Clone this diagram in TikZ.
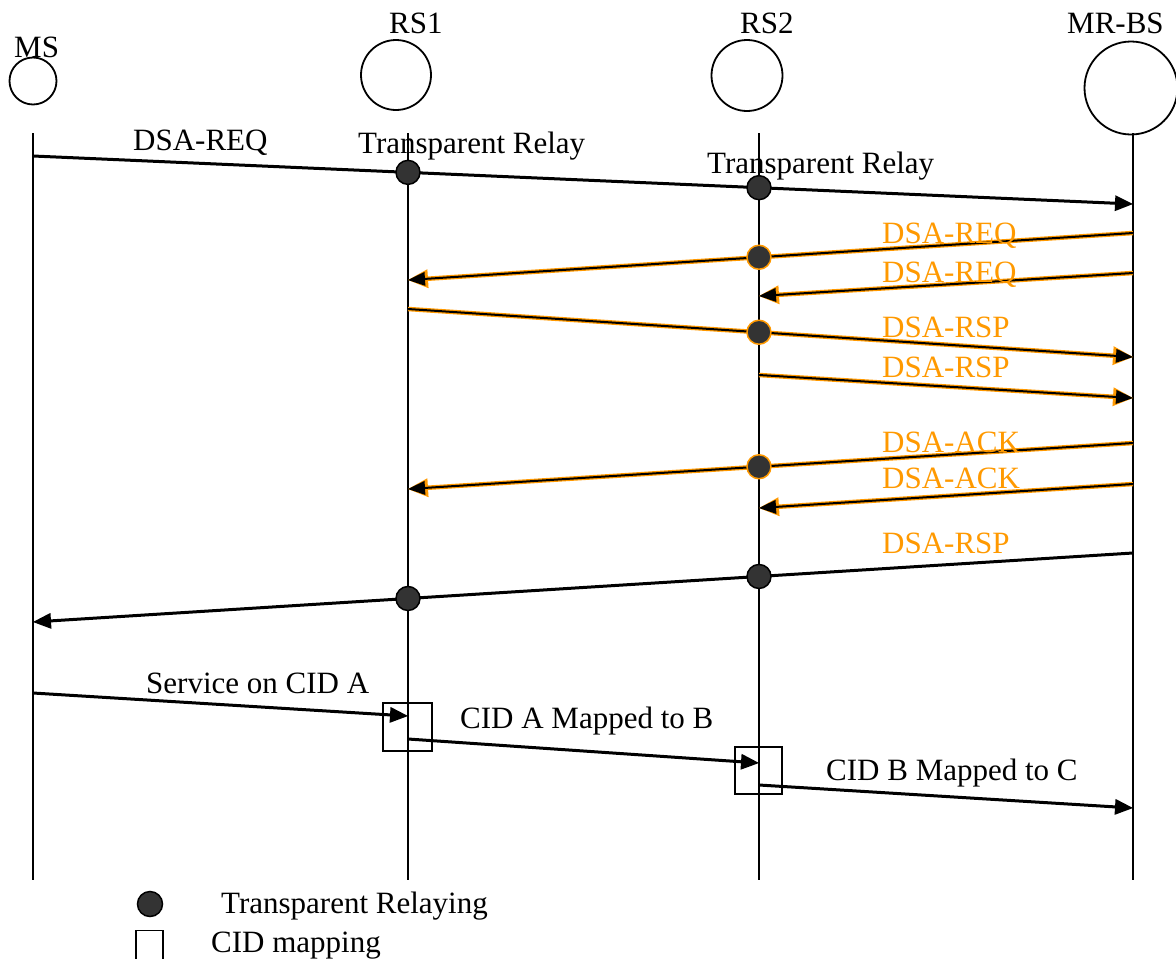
\documentclass[tikz,border=0pt]{standalone}
\usepackage{fontspec}
\setmainfont{Liberation Serif}
\usetikzlibrary{arrows.meta,calc}
\definecolor{dsaorange}{RGB}{255,153,0}
\definecolor{dotgray}{RGB}{51,51,51}
\begin{document}
\begin{tikzpicture}[x=1pt,y=-1pt,
  lbl/.style={font=\fontsize{31}{37}\selectfont, inner sep=0pt, anchor=base west},
  olbl/.style={lbl, text=dsaorange},
  head/.style={circle, draw, line width=1.8pt, inner sep=0pt},
  life/.style={line width=1.8pt},
  msgline/.style={line width=3pt},
  msg/.style={msgline, -{Triangle[length=18pt,width=16pt,line width=0pt]}},
  oback/.style={line width=4.5pt, draw=dsaorange},
  obackarr/.style={oback, -{Triangle[length=20pt,width=19pt,line width=0pt]}},
  ofront/.style={line width=2pt, draw=black},
  ofrontarr/.style={ofront, -{Triangle[length=17pt,width=14pt,line width=0pt]}},
  relay/.style={circle, fill=dotgray, draw=black, line width=1.5pt, minimum size=24pt, inner sep=0pt},
  orelay/.style={relay, draw=dsaorange},
  cidbox/.style={rectangle, draw, line width=1.8pt, inner sep=0pt},
]
\useasboundingbox (0,0) rectangle (1176,959);

% heads
\node[head, minimum size=47pt] (msH) at (33,81) {};
\node[head, minimum size=70pt] (rs1H) at (396,75) {};
\node[head, minimum size=71pt] (rs2H) at (747,75.5) {};
\node[head, minimum size=93pt] (bsH) at (1131,88) {};
\node[lbl] (msL) at (14,57) {MS};
\node[lbl] (rs1L) at (389,33) {RS1};
\node[lbl] (rs2L) at (740,33) {RS2};
\node[lbl] (bsL) at (1067,33) {MR-BS};

% lifelines
\coordinate (msT) at (33,133);  \coordinate (msB) at (33,880);
\coordinate (r1T) at (408,133); \coordinate (r1B) at (408,880);
\coordinate (r2T) at (759,133); \coordinate (r2B) at (759,880);
\coordinate (bsT) at (1133,133);\coordinate (bsB) at (1133,880);
\draw[life] (msT) -- (msB);
\draw[life] (r1T) -- (r1B);
\draw[life] (r2T) -- (r2B);
\draw[life] (bsT) -- (bsB);

% message endpoints
\coordinate (m1a) at (33,156);   \coordinate (m1b) at (1133,204);
\coordinate (m2a) at (1133,233); \coordinate (m2b) at (408,280);
\coordinate (m3a) at (1133,273); \coordinate (m3b) at (759,296);
\coordinate (m4a) at (408,309);  \coordinate (m4b) at (1133,357);
\coordinate (m5a) at (759,375);  \coordinate (m5b) at (1133,398);
\coordinate (m6a) at (1133,443); \coordinate (m6b) at (408,489);
\coordinate (m7a) at (1133,484); \coordinate (m7b) at (759,508);
\coordinate (m8a) at (1133,553); \coordinate (m8b) at (33,622);
\coordinate (m9a) at (33,693);   \coordinate (m9b) at (408,716);
\coordinate (m10a) at (408,739); \coordinate (m10b) at (759,763);
\coordinate (m11a) at (759,785); \coordinate (m11b) at (1133,808);

% black messages
\draw[msg] (m1a) -- (m1b);
\draw[msg] (m8a) -- (m8b);
\draw[msg] (m9a) -- (m9b);
\draw[msg] (m10a) -- (m10b);
\draw[msg] (m11a) -- (m11b);

% orange-outlined messages
\foreach \s/\e in {m2a/m2b,m3a/m3b,m4a/m4b,m5a/m5b,m6a/m6b,m7a/m7b}{
  \draw[obackarr] (\s) -- (\e);
  \draw[ofrontarr] (\s) -- (\e);
}

% relay dots
\node[relay] (d1) at ($(m1a)!0.3409!(m1b)$) {};
\node[relay] (d2) at ($(m1a)!0.66!(m1b)$) {};
\node[orelay] (d3) at ($(m2a)!0.5159!(m2b)$) {};
\node[orelay] (d4) at ($(m4a)!0.4841!(m4b)$) {};
\node[orelay] (d5) at ($(m6a)!0.5159!(m6b)$) {};
\node[relay] (d6) at ($(m8a)!0.34!(m8b)$) {};
\node[relay] (d7) at ($(m8a)!0.6591!(m8b)$) {};

% CID boxes
\node[cidbox, minimum width=49pt, minimum height=48pt] (box1) at (407.5,727) {};
\node[cidbox, minimum width=47pt, minimum height=47pt] (box2) at (758.5,770.5) {};

% labels
\node[lbl] (l1) at (133,150) {DSA-REQ};
\node[lbl] (tr1) at (358,153) {Transparent Relay};
\node[lbl] (tr2) at (707,173) {Transparent Relay};
\node[olbl] (o1) at (882,243) {DSA-REQ};
\node[olbl] (o2) at (882,282) {DSA-REQ};
\node[olbl] (o3) at (882,337) {DSA-RSP};
\node[olbl] (o4) at (882,377) {DSA-RSP};
\node[olbl] (o5) at (882,452) {DSA-ACK};
\node[olbl] (o6) at (882,488) {DSA-ACK};
\node[olbl] (o7) at (882,553) {DSA-RSP};
\node[lbl] (s1) at (146,693) {Service on CID A};
\node[lbl] (s2) at (460,728) {CID A Mapped to B};
\node[lbl] (s3) at (826,780) {CID B Mapped to C};

% legend
\node[relay, minimum size=25pt] (legDot) at (150,904) {};
\node[cidbox, minimum width=27pt, minimum height=29pt] (legBox) at (149.5,945) {};
\node[lbl] (legT1) at (221,913) {Transparent Relaying};
\node[lbl] (legT2) at (211,952) {CID mapping};
\end{tikzpicture}
\end{document}
